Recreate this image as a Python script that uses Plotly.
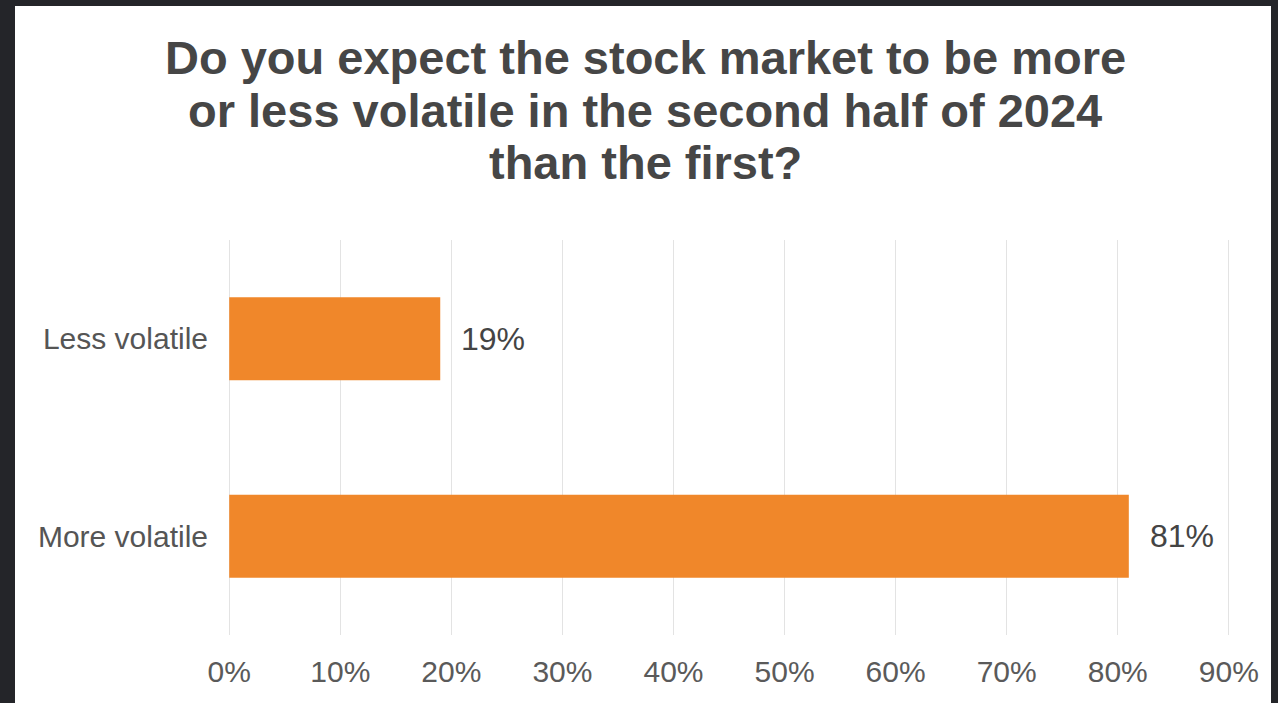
import plotly.graph_objects as go

categories = ["Less volatile", "More volatile"]
values = [19, 81]
tick_vals = [0, 10, 20, 30, 40, 50, 60, 70, 80, 90]
tick_text = [f"{v}%" for v in tick_vals]
title_lines = [
    "Do you expect the stock market to be more",
    "or less volatile in the second half of 2024",
    "than the first?",
]

BAR = "#F0872A"
TXT = "#474747"
FONT = "Liberation Sans, Arial, sans-serif"

W, H = 1278, 703
L, R, T, B = 227, 47, 240, 68
PW, PH = W - L - R, H - T - B

fig = go.Figure(go.Bar(
    y=categories, x=values, orientation="h",
    marker=dict(color=BAR, line=dict(width=0)),
    hoverinfo="skip",
))

annotations = []
for c, v in zip(categories, values):
    annotations.append(dict(
        x=v, y=c, xref="x", yref="y", text=f"{v}%", showarrow=False,
        xanchor="left", xshift=19, font=dict(size=32, color="#444444", family=FONT),
    ))

title_y_px = [57, 110, 162]
for line, ypx in zip(title_lines, title_y_px):
    annotations.append(dict(
        x=(645 - L) / PW, y=(H - B - ypx) / PH, xref="paper", yref="paper",
        text=f"<b>{line}</b>", showarrow=False, xanchor="center", yanchor="middle",
        font=dict(size=47, color="#464646", family=FONT),
    ))

shapes = [
    dict(type="rect", xref="paper", yref="paper", layer="below",
         x0=(15 - L) / PW, x1=(1271 - L) / PW,
         y0=(H - B - 720) / PH, y1=(H - B - 6) / PH,
         fillcolor="white", line=dict(width=0)),
]

fig.update_layout(
    width=W, height=H,
    margin=dict(l=L, r=R, t=T, b=B, pad=0),
    paper_bgcolor="#242529",
    plot_bgcolor="white",
    showlegend=False,
    bargap=0.58,
    annotations=annotations,
    shapes=shapes,
    font=dict(family=FONT, color=TXT),
)
fig.update_xaxes(
    range=[-0.2, 90.2], tickvals=tick_vals, ticktext=tick_text,
    showgrid=True, gridcolor="#e3e3e3", gridwidth=1, zeroline=False,
    showline=False, ticks="", ticklabelstandoff=16,
    tickfont=dict(size=30, color="#5a5a5a", family=FONT), fixedrange=True,
)
fig.update_yaxes(
    autorange="reversed", showgrid=False, zeroline=False, showline=False,
    ticks="", ticklabelstandoff=18,
    tickfont=dict(size=30, color="#555555", family=FONT), fixedrange=True,
)

fig.write_html(
    "out.html",
    config=dict(displayModeBar=False),
    post_script="document.body.style.margin='0';document.body.style.overflow='hidden';",
)
